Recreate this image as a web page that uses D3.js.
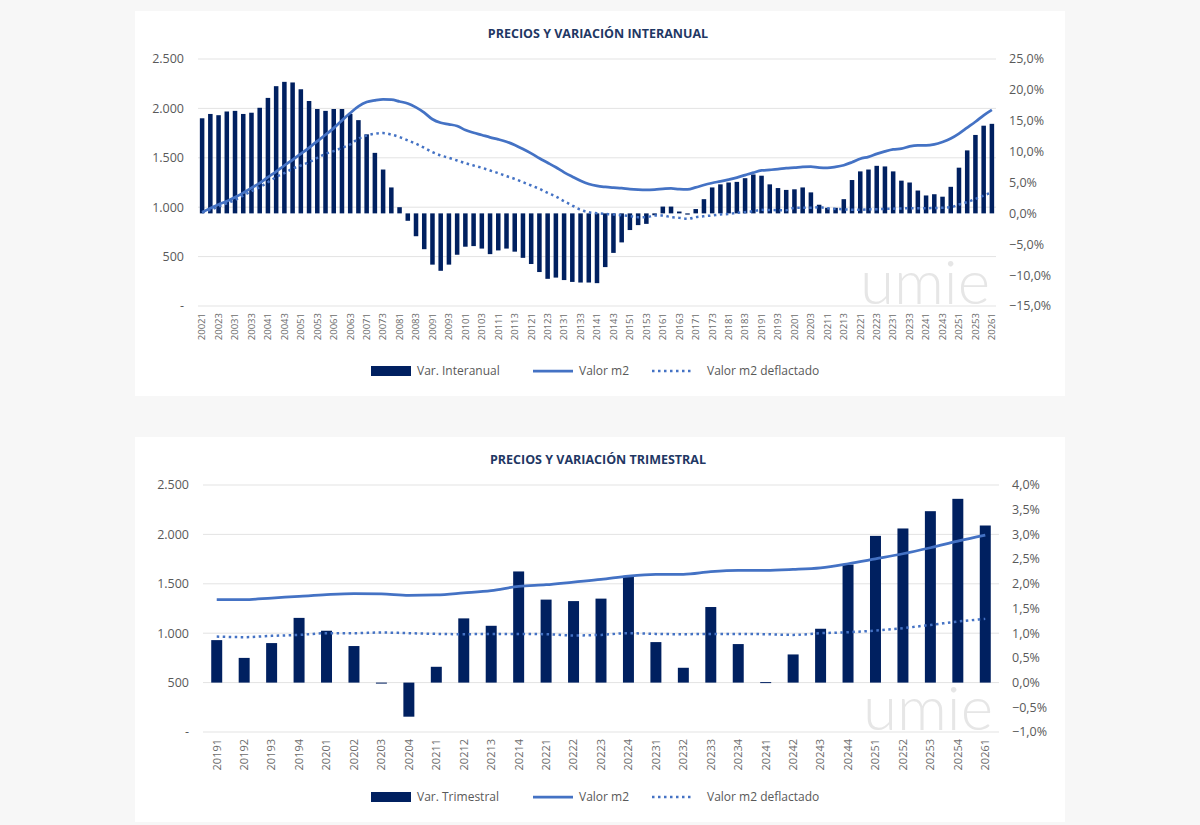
<!DOCTYPE html>
<html lang="es">
<head>
    <meta charset="UTF-8">
    <title>Precios y variación</title>
    <script src="https://d3js.org/d3.v7.min.js"></script>
    <style>
        body { margin: 0; background: #f7f7f7; font-family: "Open Sans", Arial, sans-serif; }
        svg { display: block; }
        .tick-lbl { fill: #595959; font-size: 12.5px; }
        .x-lbl { fill: #6b6b6b; }
        .title { fill: #1f3864; font-size: 12.5px; font-weight: bold; }
        .legend-lbl { fill: #595959; font-size: 12px; }
    </style>
</head>
<body>
<div id="chart"></div>
<script>
    // ---- datos: gráfico interanual ----
    const quartersAnnual = [
        "20021","20022","20023","20024","20031","20032","20033","20034",
        "20041","20042","20043","20044","20051","20052","20053","20054",
        "20061","20062","20063","20064","20071","20072","20073","20074",
        "20081","20082","20083","20084","20091","20092","20093","20094",
        "20101","20102","20103","20104","20111","20112","20113","20114",
        "20121","20122","20123","20124","20131","20132","20133","20134",
        "20141","20142","20143","20144","20151","20152","20153","20154",
        "20161","20162","20163","20164","20171","20172","20173","20174",
        "20181","20182","20183","20184","20191","20192","20193","20194",
        "20201","20202","20203","20204","20211","20212","20213","20214",
        "20221","20222","20223","20224","20231","20232","20233","20234",
        "20241","20242","20243","20244","20251","20252","20253","20254",
        "20261"
    ];
    const varInteranual = [
        15.4, 16.1, 15.9, 16.5, 16.6, 16.1, 16.3, 17.1,
        18.7, 20.6, 21.3, 21.2, 20.1, 18.2, 16.9, 16.6,
        16.9, 16.9, 16.1, 15.1, 12.8, 9.8, 7.1, 4.2,
        1.0, -1.2, -3.7, -5.8, -8.3, -9.3, -8.3, -6.7,
        -5.4, -5.3, -5.7, -6.6, -6.0, -5.7, -6.2, -7.2,
        -8.2, -9.5, -10.6, -10.4, -10.8, -11.1, -11.2, -11.2,
        -11.3, -8.7, -6.4, -4.7, -2.7, -1.9, -1.7, -0.3,
        1.1, 1.1, 0.3, -0.2, 0.7, 2.3, 4.2, 4.7,
        5.0, 5.1, 5.7, 6.3, 6.1, 4.7, 4.1, 3.8,
        3.9, 4.2, 3.4, 1.4, 0.9, 0.9, 2.3, 5.4,
        6.8, 7.1, 7.7, 7.6, 6.8, 5.3, 5.0, 3.7,
        2.9, 3.1, 2.7, 4.3, 7.4, 10.2, 12.7, 14.2,
        14.5
    ];
    const valorAnnual = [
        949, 990, 1027, 1061, 1101, 1145, 1196, 1243,
        1304, 1361, 1422, 1480, 1540, 1601, 1669, 1733,
        1800, 1878, 1953, 2020, 2064, 2081, 2091, 2088,
        2070, 2050, 2010, 1957, 1890, 1855, 1839, 1822,
        1781, 1754, 1731, 1707, 1687, 1663, 1630, 1589,
        1545, 1495, 1450, 1404, 1353, 1309, 1268, 1235,
        1215, 1205, 1198, 1192, 1183, 1178, 1176, 1179,
        1185, 1190, 1182, 1180, 1200, 1225, 1245, 1262,
        1280, 1300, 1325, 1350, 1372, 1378, 1385, 1395,
        1400, 1408, 1410, 1400, 1398, 1408, 1425, 1455,
        1490, 1510, 1540, 1565, 1585, 1592, 1615, 1625,
        1625, 1635, 1660, 1695, 1745, 1805, 1865, 1930,
        1985
    ];
    const deflactAnnual = [
        949, 973, 1007, 1040, 1074, 1118, 1162, 1203,
        1253, 1304, 1345, 1389, 1422, 1456, 1500, 1540,
        1568, 1601, 1635, 1693, 1726, 1743, 1750, 1735,
        1710, 1676, 1642, 1601, 1557, 1524, 1500, 1473,
        1446, 1422, 1399, 1372, 1345, 1314, 1287, 1253,
        1220, 1186, 1145, 1108, 1061, 1017, 973, 949,
        939, 932, 926, 919, 909, 899, 899, 916,
        916, 899, 892, 882, 899, 909, 916, 926,
        932, 943, 949, 960, 973, 972, 970, 970,
        993, 995, 995, 1000, 990, 983, 978, 975,
        973, 978, 980, 983, 985, 988, 990, 990,
        990, 992, 995, 1000, 1027, 1051, 1084, 1118,
        1152
    ];

    // ---- datos: gráfico trimestral ----
    const quartersQuarterly = [
        "20191","20192","20193","20194","20201","20202","20203","20204",
        "20211","20212","20213","20214","20221","20222","20223","20224",
        "20231","20232","20233","20234","20241","20242","20243","20244",
        "20251","20252","20253","20254","20261"
    ];
    const varTrimestral = [
        0.86, 0.50, 0.80, 1.31, 1.05, 0.74, -0.02, -0.69,
        0.32, 1.30, 1.15, 2.25, 1.68, 1.65, 1.70, 2.16,
        0.82, 0.30, 1.53, 0.78, 0.01, 0.57, 1.09, 2.39,
        2.97, 3.12, 3.47, 3.72, 3.18
    ];
    const valorQuarterly = [
        1339, 1339, 1356, 1373, 1390, 1400, 1397, 1383,
        1387, 1407, 1430, 1474, 1491, 1518, 1544, 1578,
        1595, 1595, 1622, 1635, 1635, 1645, 1662, 1703,
        1753, 1804, 1865, 1932, 1993
    ];
    const deflactQuarterly = [
        966, 960, 973, 983, 1000, 1000, 1007, 1000,
        993, 990, 993, 993, 990, 977, 983, 1000,
        993, 990, 993, 993, 990, 983, 1000, 1010,
        1027, 1051, 1084, 1118, 1145
    ];

    const leftTicks = [0, 500, 1000, 1500, 2000, 2500];
    const rightTicksAnnual = [-15, -10, -5, 0, 5, 10, 15, 20, 25];
    const rightTicksQuarterly = [-1, -0.5, 0, 0.5, 1, 1.5, 2, 2.5, 3, 3.5, 4];

    const barColor = "#002060";
    const lineColor = "#4472c4";

    const es = d3.formatLocale({ decimal: ",", thousands: ".", grouping: [3], currency: ["", "€"] });
    const fmtLeft = v => v === 0 ? "-" : es.format(",.0f")(v);
    const fmtRight = v => es.format(".1f")(v) + "%";

    const width = 1200, height = 825;
    const svg = d3.select("#chart").append("svg")
        .attr("width", width)
        .attr("height", height);

    svg.append("rect").attr("width", width).attr("height", height).attr("fill", "#f7f7f7");

    function drawPanel(cfg) {
        const g = svg.append("g");
        g.append("rect")
            .attr("x", 135).attr("y", cfg.top - 48)
            .attr("width", 930).attr("height", 385)
            .attr("fill", "#ffffff");

        const x = d3.scaleBand().domain(cfg.cats).range([cfg.x0, cfg.x1]).paddingInner(cfg.pad).paddingOuter(cfg.pad / 2);
        const yL = d3.scaleLinear().domain([0, 2500]).range([cfg.bottom, cfg.top]);
        const yR = d3.scaleLinear().domain(cfg.rDomain).range([cfg.bottom, cfg.top]);

        // título
        g.append("text").attr("class", "title")
            .attr("x", 598).attr("y", cfg.top - 21)
            .attr("text-anchor", "middle")
            .text(cfg.title);

        // rejilla
        g.append("g").selectAll("line")
            .data(leftTicks)
            .join("line")
            .attr("x1", cfg.x0).attr("x2", cfg.x1)
            .attr("y1", d => yL(d)).attr("y2", d => yL(d))
            .attr("stroke", "#e3e3e3").attr("stroke-width", 1);

        // eje izquierdo
        g.append("g").selectAll("text")
            .data(leftTicks)
            .join("text")
            .attr("class", "tick-lbl")
            .attr("x", cfg.x0 - 14).attr("y", d => yL(d))
            .attr("dy", "0.35em").attr("text-anchor", "end")
            .text(fmtLeft);

        // eje derecho
        g.append("g").selectAll("text")
            .data(cfg.rTicks)
            .join("text")
            .attr("class", "tick-lbl")
            .attr("x", cfg.x1 + 13).attr("y", d => yR(d))
            .attr("dy", "0.35em").attr("text-anchor", "start")
            .text(fmtRight);

        // marca de agua
        g.append("text")
            .attr("x", cfg.x1 - 6).attr("y", cfg.bottom - 2)
            .attr("text-anchor", "end")
            .attr("font-family", "Lato, sans-serif")
            .attr("font-weight", 300)
            .attr("font-size", 62)
            .attr("fill", "#e6e6e6")
            .text("umie");

        // barras
        g.append("g").selectAll("rect")
            .data(cfg.bars)
            .join("rect")
            .attr("x", (d, i) => x(cfg.cats[i]))
            .attr("width", x.bandwidth())
            .attr("y", d => yR(Math.max(0, d)))
            .attr("height", d => Math.max(1, Math.abs(yR(d) - yR(0))))
            .attr("fill", barColor);

        const line = d3.line()
            .x((d, i) => x(cfg.cats[i]) + x.bandwidth() / 2)
            .y(d => yL(d))
            .curve(d3.curveMonotoneX);

        g.append("path")
            .datum(cfg.deflact)
            .attr("d", line)
            .attr("fill", "none")
            .attr("stroke", lineColor)
            .attr("stroke-width", 2.5)
            .attr("stroke-dasharray", "2.5,3.5");

        g.append("path")
            .datum(cfg.valor)
            .attr("d", line)
            .attr("fill", "none")
            .attr("stroke", lineColor)
            .attr("stroke-width", 2.75);

        // etiquetas eje x
        g.append("g").selectAll("text")
            .data(cfg.labels)
            .join("text")
            .attr("class", "x-lbl")
            .attr("font-size", cfg.xFont)
            .attr("text-anchor", "end")
            .attr("dy", "0.35em")
            .attr("transform", d => `translate(${x(d) + x.bandwidth() / 2},${cfg.bottom + 7}) rotate(-90)`)
            .text(d => d);

        // leyenda
        const ly = cfg.legendY;
        const lg = g.append("g");
        lg.append("rect").attr("x", 371).attr("y", ly - 5).attr("width", 40).attr("height", 10).attr("fill", barColor);
        lg.append("text").attr("class", "legend-lbl").attr("x", 417).attr("y", ly).attr("dy", "0.35em").text(cfg.barName);
        lg.append("line").attr("x1", 533).attr("x2", 573).attr("y1", ly).attr("y2", ly)
            .attr("stroke", lineColor).attr("stroke-width", 2.75);
        lg.append("text").attr("class", "legend-lbl").attr("x", 579).attr("y", ly).attr("dy", "0.35em").text("Valor m2");
        lg.append("line").attr("x1", 652).attr("x2", 692).attr("y1", ly).attr("y2", ly)
            .attr("stroke", lineColor).attr("stroke-width", 2.5).attr("stroke-dasharray", "2.5,3.5");
        lg.append("text").attr("class", "legend-lbl").attr("x", 707).attr("y", ly).attr("dy", "0.35em").text("Valor m2 deflactado");
    }

    drawPanel({
        title: "PRECIOS Y VARIACIÓN INTERANUAL",
        cats: quartersAnnual,
        labels: quartersAnnual.filter((d, i) => i % 2 === 0),
        bars: varInteranual,
        valor: valorAnnual,
        deflact: deflactAnnual,
        rDomain: [-15, 25],
        rTicks: rightTicksAnnual,
        top: 59, bottom: 306,
        x0: 198, x1: 996,
        pad: 0.45,
        xFont: 9.5,
        legendY: 371,
        barName: "Var. Interanual"
    });

    drawPanel({
        title: "PRECIOS Y VARIACIÓN TRIMESTRAL",
        cats: quartersQuarterly,
        labels: quartersQuarterly,
        bars: varTrimestral,
        valor: valorQuarterly,
        deflact: deflactQuarterly,
        rDomain: [-1, 4],
        rTicks: rightTicksQuarterly,
        top: 485, bottom: 732,
        x0: 203, x1: 999,
        pad: 0.6,
        xFont: 11,
        legendY: 797,
        barName: "Var. Trimestral"
    });
</script>
</body>
</html>
